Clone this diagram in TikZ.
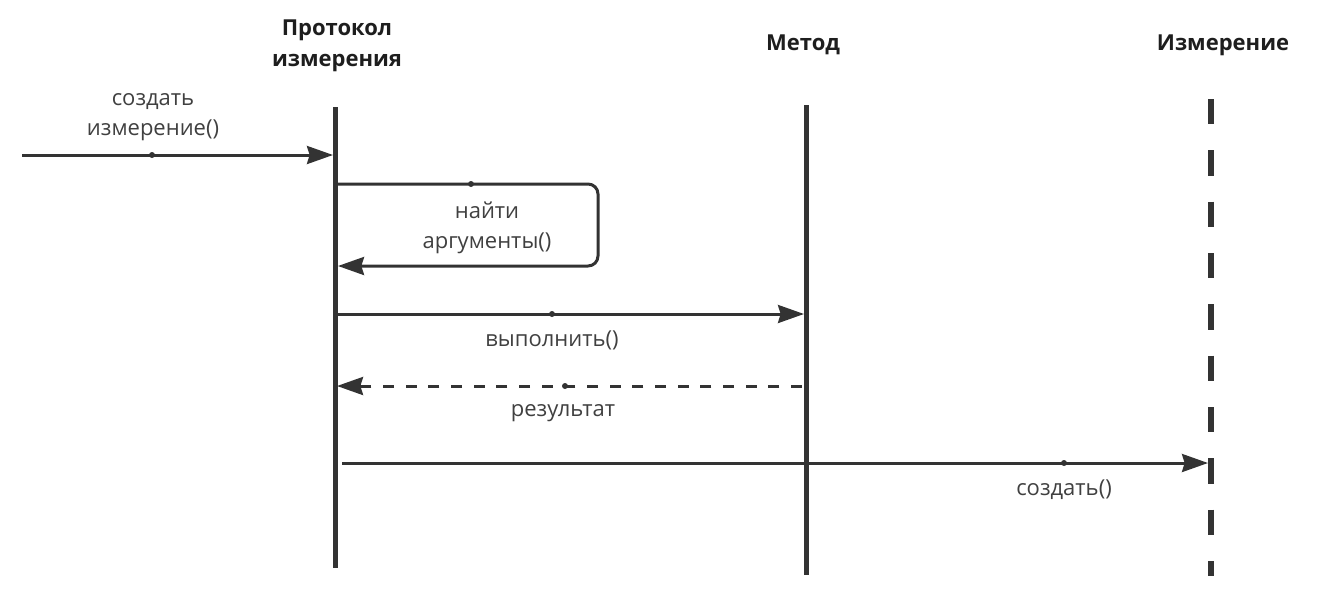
\documentclass[tikz,border=0pt]{standalone}
\usepackage{fontspec}
\setmainfont{Open Sans}
\usetikzlibrary{arrows.meta}
\definecolor{ln}{HTML}{333333}
\definecolor{tx}{HTML}{404040}
\definecolor{hd}{HTML}{1E1E1E}
\tikzset{
  px/.style={x=0.75pt,y=-0.75pt},
  head/.style={font=\fontsize{16.5pt}{23.5pt}\selectfont\bfseries, text=hd, align=center, inner sep=0pt},
  lbl/.style={font=\fontsize{16.5pt}{22.5pt}\selectfont, text=tx, align=center, inner sep=0pt},
  life/.style={draw=ln, line width=3.75pt},
  lifedash/.style={draw=ln, line width=5pt, dash pattern=on 19pt off 19.5pt},
  msg/.style={draw=ln, line width=2.25pt, -{Stealth[length=19.5pt,width=13.5pt,inset=2pt]}},
  ret/.style={msg, dash pattern=on 8.25pt off 8.75pt},
  dotc/.style={circle, fill=ln, inner sep=0pt, minimum size=4.5pt}
}
\begin{document}
\begin{tikzpicture}[px]
\useasboundingbox (0,0) rectangle (1326,601);
% headers
\node[head] (h1) at (337,46) {Протокол\\измерения};
\node[head] (h2) at (803,45) {Метод};
\node[head] (h3) at (1223,45) {Измерение};
% lifelines
\coordinate (l1t) at (335,107); \coordinate (l1b) at (335,568);
\coordinate (l2t) at (806,105); \coordinate (l2b) at (806,575);
\coordinate (l3t) at (1211,99);  \coordinate (l3b) at (1211,576);
\draw[life] (l1t) -- (l1b);
\draw[life] (l2t) -- (l2b);
\draw[lifedash] (l3t) -- (l3b);
% message 1
\coordinate (m1s) at (22,155); \coordinate (m1e) at (333,155);
\draw[msg] (m1s) -- (m1e);
\node[dotc] (d1) at (152,155) {};
\node[lbl] (t1) at (153,117) {создать\\измерение()};
% message 2 (self)
\coordinate (m2s) at (337,184); \coordinate (m2a) at (598,184);
\coordinate (m2b) at (598,266); \coordinate (m2e) at (338,266);
\draw[msg, rounded corners=7.5pt] (m2s) -- (m2a) -- (m2b) -- (m2e);
\node[dotc] (d2) at (471,184) {};
\node[lbl] (t2) at (487,228) {найти\\аргументы()};
% message 3
\coordinate (m3s) at (337,314); \coordinate (m3e) at (804,314);
\draw[msg] (m3s) -- (m3e);
\node[dotc] (d3) at (552,314) {};
\node[lbl] (t3) at (552,340) {выполнить()};
% message 4 (return)
\coordinate (m4s) at (802,386); \coordinate (m4e) at (337,386);
\draw[ret] (m4s) -- (m4e);
\node[dotc] (d4) at (565,386) {};
\node[lbl] (t4) at (563,413) {результат};
% message 5
\coordinate (m5s) at (342,463); \coordinate (m5e) at (1208,463);
\draw[msg] (m5s) -- (m5e);
\node[dotc] (d5) at (1064,463) {};
\node[lbl] (t5) at (1064,490) {создать()};
\end{tikzpicture}
\end{document}
